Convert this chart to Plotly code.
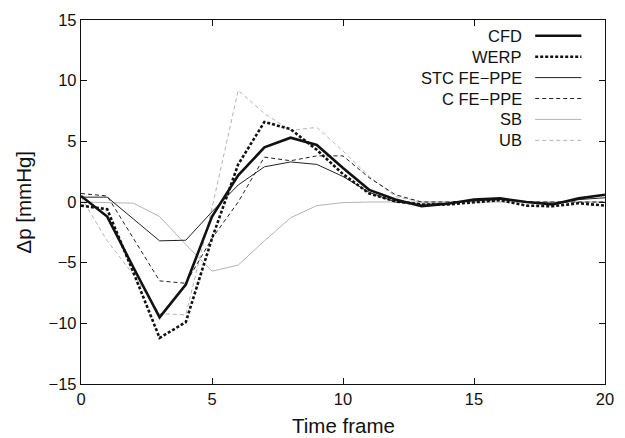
import plotly.graph_objects as go

frames = list(range(21))

cfd = [0.5, -1.2, -5.4, -9.5, -6.8, -1.2, 2.2, 4.5, 5.3, 4.7, 2.8, 1.0, 0.2, -0.35, -0.15, 0.2, 0.3, 0.0, -0.2, 0.3, 0.6]
werp = [-0.3, -0.6, -5.8, -11.2, -9.9, -3.0, 3.1, 6.6, 6.0, 4.3, 2.3, 0.7, 0.05, -0.2, -0.2, 0.0, 0.15, -0.3, -0.35, -0.1, -0.3]
stc = [0.4, 0.4, -1.4, -3.2, -3.15, -0.8, 1.4, 2.9, 3.3, 3.1, 2.1, 0.8, 0.0, -0.2, -0.1, 0.1, 0.2, 0.0, -0.1, 0.2, 0.35]
cfe = [0.7, 0.5, -3.0, -6.5, -6.7, -3.0, 0.0, 3.7, 3.4, 3.8, 3.8, 2.0, 0.6, 0.0, 0.0, 0.1, 0.2, 0.0, 0.0, 0.0, 0.0]
sb = [0.0, -0.05, -0.1, -1.2, -3.5, -5.7, -5.2, -3.2, -1.3, -0.3, -0.05, 0.0, 0.0, 0.0, 0.0, 0.0, 0.0, 0.0, 0.0, 0.0, 0.0]
ub = [0.4, -3.2, -6.0, -9.2, -9.3, -0.5, 9.2, 7.3, 5.9, 6.15, 4.2, 2.1, 0.45, 0.0, 0.0, 0.1, 0.2, 0.0, 0.0, 0.0, 0.0]

names = ["CFD", "WERP", "STC FE\u2212PPE", "C FE\u2212PPE", "SB", "UB"]
series = [cfd, werp, stc, cfe, sb, ub]
x_title = "Time frame"
y_title = "\u0394p [mmHg]"
styles = [
    dict(color="#111111", width=2.6, dash="solid"),
    dict(color="#111111", width=2.6, dash="3px,2px"),
    dict(color="#222222", width=1.0, dash="solid"),
    dict(color="#222222", width=1.0, dash="4px,3px"),
    dict(color="#b4b4b4", width=1.0, dash="solid"),
    dict(color="#b4b4b4", width=1.0, dash="4px,3px"),
]

FONT = "Liberation Sans, Arial, Helvetica, sans-serif"

fig = go.Figure()
order = [4, 5, 3, 2, 1, 0]
for i in order:
    fig.add_trace(go.Scatter(x=frames, y=series[i], mode="lines", name=names[i],
                             line=styles[i], showlegend=False))

W, H = 625, 438
L, R, T, B = 81, 11, 15, 54
pw, ph = W - L - R, H - T - B
text_right_px = 532
line_x0_px, line_x1_px = 543, 590
row0_px, row_step = 31, 21.2
for k, nm in enumerate(names):
    ypx = row0_px + k * row_step
    yp = (H - B - ypx) / ph
    fig.add_annotation(x=(text_right_px - L) / pw, y=yp, xref="paper", yref="paper",
                       text=nm, showarrow=False, xanchor="right", yanchor="middle",
                       font=dict(size=16.5, color="#111111", family=FONT))
    st = styles[k]
    fig.add_shape(type="line", xref="paper", yref="paper",
                  x0=(line_x0_px - L) / pw, x1=(line_x1_px - L) / pw, y0=yp, y1=yp,
                  line=dict(color=st["color"], width=st["width"], dash=st["dash"]))

# axis titles placed as annotations for exact positioning
fig.add_annotation(x=0.5, y=(H - B - 426) / ph, xref="paper", yref="paper",
                   text=x_title, showarrow=False, xanchor="center", yanchor="middle",
                   font=dict(size=20.5, color="#111111", family=FONT))
fig.add_annotation(x=(23 - L) / pw, y=(H - B - 199) / ph, xref="paper", yref="paper",
                   text=y_title, showarrow=False, xanchor="center", yanchor="middle",
                   textangle=-90, font=dict(size=20.5, color="#111111", family=FONT))

axis_common = dict(showgrid=False, zeroline=False, showline=True, linecolor="#111111",
                   linewidth=1.3, mirror="ticks", ticks="inside", ticklen=6,
                   tickwidth=1, tickcolor="#111111",
                   tickfont=dict(size=16.5, color="#111111", family=FONT))

fig.update_layout(
    width=W, height=H,
    margin=dict(l=L, r=R, t=T, b=B),
    paper_bgcolor="white", plot_bgcolor="white",
    font=dict(family=FONT, color="#111111"),
    xaxis=dict(range=[0, 20], tickvals=[0, 5, 10, 15, 20], **axis_common),
    yaxis=dict(range=[-15, 15], tickvals=[-15, -10, -5, 0, 5, 10, 15], **axis_common),
)

fig.write_html("out.html")
